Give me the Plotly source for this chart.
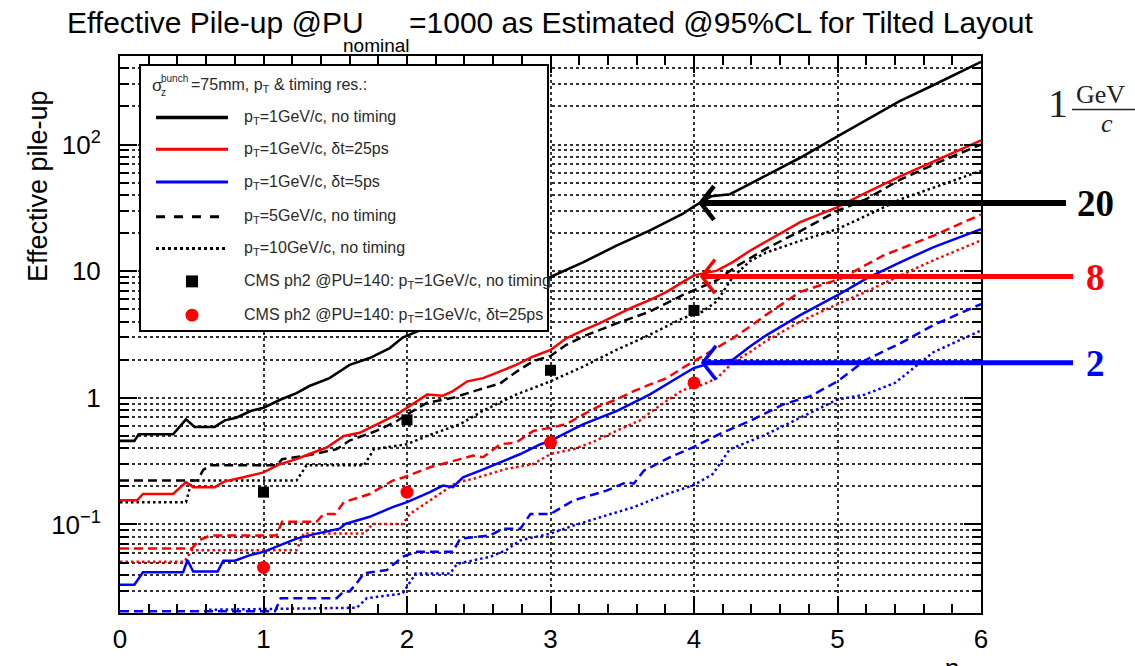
import math
import plotly.graph_objects as go

# ---------------- data: effective pile-up vs pseudorapidity ----------------
# pT = 1 GeV/c, no timing (black solid)
eta_k1 = [0, 0.1, 0.13, 0.37, 0.46, 0.52, 0.66, 0.73, 0.81, 0.91, 1.0, 1.12, 1.23, 1.32, 1.46,
          1.6, 1.74, 1.88, 1.97, 2.04, 2.3, 2.6, 3.0, 3.23, 3.46, 3.69, 3.92, 4.0, 4.12, 4.25,
          4.34, 4.5, 4.74, 5.0, 5.2, 5.43, 5.67, 6.0]
pu_k1 = [0.457, 0.457, 0.515, 0.515, 0.676, 0.589, 0.589, 0.664, 0.697, 0.786, 0.835, 0.97, 1.09,
         1.24, 1.43, 1.82, 2.06, 2.47, 2.99, 3.23, 4.3, 6.0, 9.0, 11.8, 15.9, 20.9, 28.3, 32.5,
         39.0, 40.5, 45.7, 56.5, 78.6, 116, 157, 219, 295, 450]

# pT = 5 GeV/c, no timing (black dashed)
eta_k5 = [0, 0.54, 0.58, 0.63, 1.09, 1.13, 1.3, 1.51, 1.6, 1.79, 1.93, 2.0, 2.14, 2.32, 2.49,
          2.65, 2.76, 2.88, 3.0, 3.11, 3.23, 3.46, 3.69, 3.92, 4.03, 4.16, 4.3, 4.5, 4.75, 5.0,
          5.2, 5.44, 5.7, 6.0]
pu_k5 = [0.222, 0.222, 0.27, 0.293, 0.293, 0.328, 0.35, 0.393, 0.46, 0.55, 0.656, 0.74, 0.914,
         1.0, 1.15, 1.3, 1.6, 1.95, 2.14, 2.62, 3.06, 3.87, 4.78, 6.46, 7.3, 8.5, 11.0, 15.0,
         21.0, 30.0, 37.0, 53.0, 72.0, 100.0]

# pT = 10 GeV/c, no timing (black dotted)
eta_k10 = [0, 0.46, 0.5, 1.23, 1.3, 1.7, 1.77, 2.0, 2.14, 2.37, 2.53, 2.76, 3.0, 3.23, 3.46,
           3.69, 3.92, 4.06, 4.16, 4.27, 4.39, 4.5, 4.75, 5.0, 5.2, 5.44, 5.67, 6.0]
pu_k10 = [0.15, 0.15, 0.222, 0.222, 0.293, 0.293, 0.393, 0.43, 0.5, 0.62, 0.79, 1.06, 1.35, 1.77,
          2.39, 3.14, 4.24, 4.8, 5.8, 9.0, 12.0, 14.0, 17.5, 21.5, 27.4, 37.0, 45.7, 62.0]

# pT = 1 GeV/c, dt = 25 ps (red solid)
eta_r1 = [0, 0.12, 0.16, 0.37, 0.46, 0.51, 0.66, 0.73, 0.86, 1.0, 1.11, 1.23, 1.32, 1.44, 1.56,
          1.67, 1.79, 1.93, 2.0, 2.14, 2.25, 2.32, 2.42, 2.53, 2.65, 2.76, 2.88, 3.0, 3.11, 3.23,
          3.34, 3.46, 3.58, 3.69, 3.81, 3.92, 4.0, 4.16, 4.27, 4.39, 4.5, 4.74, 5.0, 5.2, 5.44,
          5.67, 6.0]
pu_r1 = [0.155, 0.155, 0.174, 0.174, 0.216, 0.197, 0.197, 0.219, 0.236, 0.258, 0.298, 0.328, 0.36,
         0.405, 0.5, 0.53, 0.618, 0.74, 0.835, 1.06, 1.04, 1.13, 1.35, 1.43, 1.62, 1.82, 2.12,
         2.39, 2.95, 3.43, 3.87, 4.5, 5.24, 5.9, 6.87, 8.2, 9.27, 10.1, 11.8, 14.5, 17.0, 24.4,
         32.0, 41.8, 56.4, 74.0, 108.0]

# pT = 5 GeV/c, dt = 25 ps (red dashed)
eta_r5 = [0, 0.5, 0.55, 0.63, 1.09, 1.13, 1.37, 1.42, 1.5, 1.56, 1.74, 1.9, 1.98, 2.16, 2.37,
          2.46, 2.53, 2.65, 2.76, 2.88, 3.0, 3.11, 3.23, 3.34, 3.46, 3.58, 3.69, 3.81, 3.92, 4.0,
          4.16, 4.27, 4.39, 4.5, 4.74, 5.02, 5.32, 5.67, 6.0]
pu_r5 = [0.0646, 0.0646, 0.075, 0.082, 0.082, 0.105, 0.105, 0.121, 0.121, 0.15, 0.174, 0.222,
         0.236, 0.283, 0.328, 0.35, 0.34, 0.43, 0.444, 0.548, 0.58, 0.62, 0.74, 0.86, 0.97, 1.13,
         1.27, 1.43, 1.72, 1.94, 2.47, 2.95, 3.65, 4.5, 6.87, 8.7, 13.3, 19.1, 28.0]

# pT = 10 GeV/c, dt = 25 ps (red dotted)
eta_r10 = [0, 0.45, 0.5, 1.23, 1.28, 1.7, 1.76, 1.97, 2.02, 2.16, 2.23, 2.35, 2.46, 2.69, 2.88,
           3.0, 3.16, 3.3, 3.46, 3.62, 3.75, 3.92, 4.06, 4.16, 4.27, 4.39, 4.5, 4.74, 4.97, 5.2,
           5.44, 5.67, 6.0]
pu_r10 = [0.0508, 0.0508, 0.0627, 0.0627, 0.0847, 0.0847, 0.101, 0.101, 0.121, 0.155, 0.175,
          0.216, 0.229, 0.274, 0.3, 0.36, 0.393, 0.45, 0.55, 0.66, 0.85, 1.15, 1.27, 1.43, 1.9,
          2.3, 2.8, 4.0, 5.3, 6.9, 9.27, 12.2, 17.5]

# pT = 1 GeV/c, dt = 5 ps (blue solid)
eta_b1 = [0, 0.1, 0.16, 0.44, 0.47, 0.51, 0.68, 0.72, 0.8, 0.906, 1.0, 1.09, 1.14, 1.23, 1.37,
          1.53, 1.57, 1.74, 1.9, 2.0, 2.16, 2.25, 2.32, 2.39, 2.51, 2.65, 2.79, 2.93, 3.0, 3.16,
          3.23, 3.46, 3.69, 3.92, 4.0, 4.16, 4.27, 4.39, 4.5, 4.74, 5.0, 5.2, 5.44, 5.67, 6.0]
pu_b1 = [0.0334, 0.0334, 0.0419, 0.0419, 0.0524, 0.0425, 0.0425, 0.0517, 0.0517, 0.0573, 0.0608,
         0.0667, 0.0707, 0.0774, 0.0847, 0.0927, 0.101, 0.115, 0.137, 0.15, 0.18, 0.203, 0.197,
         0.236, 0.266, 0.309, 0.36, 0.43, 0.457, 0.565, 0.62, 0.786, 1.06, 1.52, 1.72, 1.94, 2.0,
         2.54, 3.1, 4.5, 6.46, 8.73, 11.8, 15.5, 21.5]

# pT = 5 GeV/c, dt = 5 ps (blue dashed)
eta_b5 = [0, 1.08, 1.12, 1.51, 1.56, 1.6, 1.65, 1.7, 1.86, 1.93, 1.97, 2.06, 2.32, 2.37, 2.58,
          2.67, 2.79, 2.86, 3.0, 3.16, 3.39, 3.53, 3.58, 3.65, 3.83, 4.0, 4.18, 4.39, 4.62, 4.81,
          5.0, 5.2, 5.44, 5.67, 6.0]
pu_b5 = [0.0206, 0.0206, 0.0262, 0.0262, 0.0296, 0.0296, 0.0344, 0.0411, 0.0437, 0.0508, 0.0556,
         0.0608, 0.0608, 0.0774, 0.082, 0.0927, 0.0927, 0.121, 0.121, 0.155, 0.185, 0.216, 0.21,
         0.266, 0.338, 0.41, 0.52, 0.656, 0.886, 1.03, 1.35, 2.0, 2.7, 3.76, 5.5]

# pT = 10 GeV/c, dt = 5 ps (blue dotted)
eta_b10 = [0, 0.55, 0.6, 1.65, 1.72, 1.97, 2.06, 2.3, 2.35, 2.58, 2.69, 2.79, 3.0, 3.16, 3.39,
           3.58, 3.81, 4.0, 4.13, 4.2, 4.25, 4.48, 4.72, 5.0, 5.19, 5.4, 5.67, 6.0]
pu_b10 = [0.018, 0.018, 0.0212, 0.022, 0.0262, 0.0285, 0.041, 0.041, 0.049, 0.0556, 0.0627, 0.075,
          0.0847, 0.098, 0.118, 0.137, 0.174, 0.205, 0.25, 0.328, 0.393, 0.5, 0.676, 0.97, 1.06,
          1.31, 2.3, 3.4]

# CMS phase-2 reference points at PU=140
cms_eta = [1, 2, 3, 4]
cms_pu_notiming = [0.18, 0.67, 1.65, 4.9]
cms_pu_25ps = [0.0458, 0.18, 0.444, 1.31]

legend_labels = [
    "p<sub>T</sub>=1GeV/c, no timing",
    "p<sub>T</sub>=1GeV/c, δt=25ps",
    "p<sub>T</sub>=1GeV/c, δt=5ps",
    "p<sub>T</sub>=5GeV/c, no timing",
    "p<sub>T</sub>=10GeV/c, no timing",
    "CMS ph2 @PU=140: p<sub>T</sub>=1GeV/c, no timing",
    "CMS ph2 @PU=140: p<sub>T</sub>=1GeV/c, δt=25ps",
]

# arrows marking the pT=1 GeV/c curves at eta=4, with their labels
arrow_labels = ["20", "8", "2"]

# ---------------- styling ----------------
SANS = "Liberation Sans, Arial, Helvetica, sans-serif"
SERIF = "Liberation Serif, Times New Roman, serif"
BLACK, RED, BLUE = "#000000", "#ff0000", "#0000ff"
DASH = "9px,5px"
DOT = "2.5px,3px"

# frame of the plotting area in page pixels
L, R, T, B = 120, 981, 56, 617
W, H = R - L, B - T


def px(x):
    return (x - L) / W


def py(y):
    return (B - y) / H


fig = go.Figure()


def add_curve(eta, pu, color, dash, name, width=2.5):
    fig.add_trace(go.Scatter(
        x=eta, y=pu, mode="lines", name=name, showlegend=False,
        line=dict(color=color, dash=dash, width=width)))


add_curve(eta_k1, pu_k1, BLACK, "solid", "pT=1GeV/c, no timing", 2.6)
add_curve(eta_k5, pu_k5, BLACK, DASH, "pT=5GeV/c, no timing")
add_curve(eta_k10, pu_k10, BLACK, DOT, "pT=10GeV/c, no timing")
add_curve(eta_r1, pu_r1, RED, "solid", "pT=1GeV/c, dt=25ps")
add_curve(eta_r5, pu_r5, RED, DASH, "pT=5GeV/c, dt=25ps")
add_curve(eta_r10, pu_r10, RED, DOT, "pT=10GeV/c, dt=25ps")
add_curve(eta_b1, pu_b1, BLUE, "solid", "pT=1GeV/c, dt=5ps")
add_curve(eta_b5, pu_b5, BLUE, DASH, "pT=5GeV/c, dt=5ps")
add_curve(eta_b10, pu_b10, BLUE, DOT, "pT=10GeV/c, dt=5ps")

fig.add_trace(go.Scatter(
    x=cms_eta, y=cms_pu_notiming, mode="markers", showlegend=False,
    name="CMS ph2 @PU=140: pT=1GeV/c, no timing",
    marker=dict(symbol="square", size=11, color=BLACK)))
fig.add_trace(go.Scatter(
    x=cms_eta, y=cms_pu_25ps, mode="markers", showlegend=False,
    name="CMS ph2 @PU=140: pT=1GeV/c, dt=25ps",
    marker=dict(symbol="circle", size=13, color=RED)))

shapes = []
annotations = []


def text(x, y, s, size, family=SANS, color="black", xanchor="left", **kw):
    annotations.append(dict(xref="paper", yref="paper", x=px(x), y=py(y), xanchor=xanchor,
                            yanchor="middle", text=s, showarrow=False,
                            font=dict(family=family, size=size, color=color), **kw))


# ---------------- legend box ----------------
shapes.append(dict(type="rect", xref="paper", yref="paper", layer="above",
                   x0=px(140), x1=px(548), y0=py(333), y1=py(65),
                   line=dict(color="black", width=2), fillcolor="white"))
leg_rows = [118, 150, 183, 218, 250, 283, 317]
leg_styles = [(BLACK, "solid", 3.5), (RED, "solid", 3), (BLUE, "solid", 3),
              (BLACK, "dash", 3), (BLACK, "dot", 3)]
for yrow, (col, dsh, wd) in zip(leg_rows, leg_styles):
    shapes.append(dict(type="line", xref="paper", yref="paper", layer="above",
                       x0=px(156), x1=px(228), y0=py(yrow), y1=py(yrow),
                       line=dict(color=col, dash=dsh, width=wd)))
shapes.append(dict(type="rect", xref="paper", yref="paper", layer="above",
                   x0=px(186), x1=px(198), y0=py(289), y1=py(277),
                   line=dict(width=0), fillcolor=BLACK))
shapes.append(dict(type="circle", xref="paper", yref="paper", layer="above",
                   x0=px(185.5), x1=px(198.5), y0=py(323.5), y1=py(310.5),
                   line=dict(width=0), fillcolor=RED))
for yrow, lab in zip(leg_rows, legend_labels):
    text(242, yrow, lab, 16, color="#2a2a2a")
# legend header: sigma_z^bunch = 75 mm
text(150, 86, "σ", 17, color="#2a2a2a")
text(159, 79, "bunch", 10, color="#2a2a2a")
text(159, 93, "z", 10, color="#2a2a2a")
text(189, 86, "=75mm, p<sub>T</sub> & timing res.:", 16, color="#2a2a2a")

# ---------------- title and axis titles ----------------
text(65, 22, "Effective Pile-up @PU", 30)
text(341, 45, "nominal", 19)
text(407, 22, "=1000 as Estimated @95%CL for Tilted Layout", 30)
text(38, 187, "Effective pile-up", 27, xanchor="center", textangle=-90)
text(952, 672, "η", 26, xanchor="center")

# ---------------- arrows and labels on the right ----------------
arrow_rows = [(204, 701, 1066, BLACK, 6), (278, 702, 1073, RED, 5), (365, 703, 1073, BLUE, 5)]
for (yr, xtip, xend, col, wd), lab in zip(arrow_rows, arrow_labels):
    shapes.append(dict(type="line", xref="paper", yref="paper", layer="above",
                       x0=px(xtip), x1=px(xend), y0=py(yr), y1=py(yr),
                       line=dict(color=col, width=wd)))
    shapes.append(dict(type="path", xref="paper", yref="paper", layer="above",
                       path=f"M {px(xtip + 13)},{py(yr - 17)} Q {px(xtip + 2)},{py(yr - 3)} {px(xtip)},{py(yr)} "
                            f"Q {px(xtip + 2)},{py(yr + 3)} {px(xtip + 13)},{py(yr + 17)}",
                       line=dict(color=col, width=wd - 1.5)))
    text(1095, yr + 1, f"<b>{lab}</b>", 37, family=SERIF, color=col, xanchor="center")

# 1 GeV/c
text(1058, 104, "1", 40, family=SERIF, color="#222", xanchor="center")
text(1074, 95, "GeV", 26, family=SERIF, color="#222")
text(1107, 124, "<i>c</i>", 26, family=SERIF, color="#222", xanchor="center")
shapes.append(dict(type="line", xref="paper", yref="paper", x0=px(1072), x1=px(1140),
                   y0=py(110), y1=py(110), line=dict(color="#222", width=1.5)))

# ---------------- axes ----------------
minor_y = [m * 10 ** e for e in range(-2, 3) for m in range(2, 10) if 0.02 <= m * 10 ** e <= 500]
grid = dict(showgrid=True, gridcolor="#333", griddash="dot", gridwidth=1.5)

fig.update_layout(
    width=1135, height=666,
    margin=dict(l=L, r=1135 - R, t=T, b=666 - B),
    paper_bgcolor="white", plot_bgcolor="white",
    showlegend=False,
    shapes=shapes, annotations=annotations,
    xaxis=dict(range=[0, 6], tickmode="linear", tick0=0, dtick=1,
               ticks="inside", ticklen=17, tickwidth=1.5, tickcolor="black",
               showline=True, linecolor="black", linewidth=2, mirror="ticks",
               zeroline=False, **grid,
               minor=dict(dtick=0.2, ticks="inside", ticklen=9, tickwidth=1.5,
                          tickcolor="black", showgrid=False),
               tickfont=dict(family=SANS, size=26, color="black"), ticklabelstandoff=2),
    yaxis=dict(type="log", range=[math.log10(0.02), math.log10(500)],
               tickmode="array", tickvals=[0.1, 1, 10, 100],
               ticktext=["10<sup>−1</sup>", "1", "10", "10<sup>2</sup>"],
               ticks="inside", ticklen=17, tickwidth=1.5, tickcolor="black",
               showline=True, linecolor="black", linewidth=2, mirror="ticks",
               zeroline=False, **grid,
               minor=dict(tickmode="array", tickvals=minor_y, ticks="inside", ticklen=9,
                          tickwidth=1.5, tickcolor="black", **grid),
               tickfont=dict(family=SANS, size=26, color="black"), ticklabelstandoff=12),
)

fig.write_html("out.html")
